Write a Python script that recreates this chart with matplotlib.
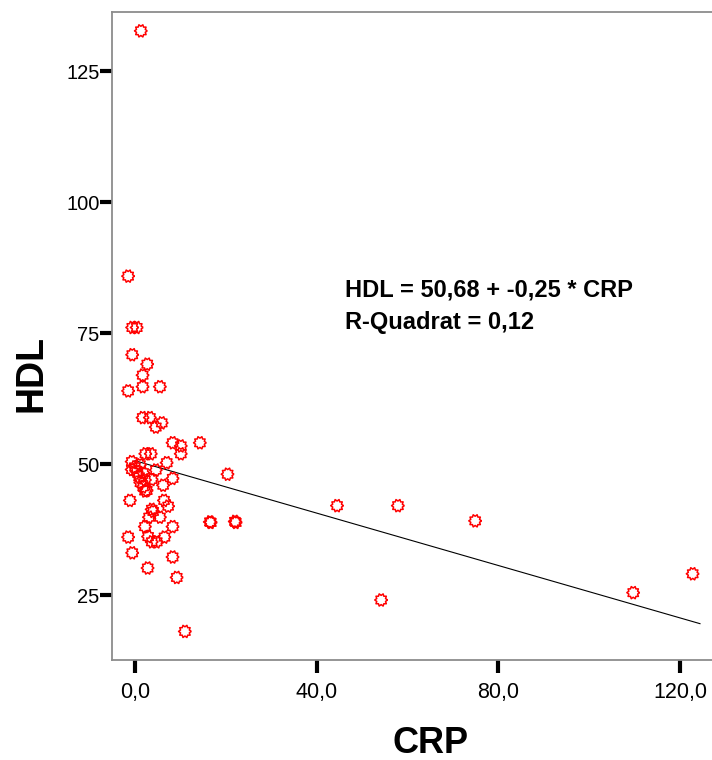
import numpy as np
import matplotlib
matplotlib.use('Agg')
import matplotlib.pyplot as plt
from matplotlib.ticker import FixedLocator, FixedFormatter

plt.rcParams['font.family'] = ['Liberation Sans', 'DejaVu Sans']

# CRP / HDL values
crp = [1.3, -1.5, -0.6, 0.4, -0.6, 2.7, 1.7, -1.5, 1.7, 5.5,
       1.7, 3.3, 5.9, 4.6, 8.3, 10.1, 14.3, 10.1, 2.3, 3.5,
       7.0, -0.7, 1.1, -0.7, 0.4, 1.8, 4.6, 0.9, 3.7, 8.3,
       2.2, 6.2, 1.8, 2.2, -1.1, 6.4, 7.3, 3.7, 4.0, 3.1,
       5.5, 2.2, 8.3, 16.5, -1.5, 2.9, 6.5, 3.7, 4.8, -0.6,
       8.3, 2.8, 9.2, 11.0, 20.4, 16.7, 22.2, 22.0, 44.5, 57.9,
       74.9, 54.2, 109.7, 122.8, 0.0, 1.2, 2.6]
hdl = [132.7, 85.9, 76.1, 76.1, 70.9, 69.1, 67.0, 64.0, 64.8, 64.8,
       58.9, 58.9, 57.9, 57.1, 54.1, 53.5, 54.1, 52.0, 52.0, 52.0,
       50.3, 50.5, 49.9, 49.0, 48.6, 48.4, 48.9, 47.6, 47.1, 47.3,
       47.0, 46.0, 45.7, 44.9, 43.1, 43.1, 42.0, 41.4, 41.0, 39.9,
       39.9, 38.1, 38.1, 39.0, 36.1, 36.2, 36.1, 35.2, 35.2, 33.1,
       32.3, 30.2, 28.4, 18.1, 48.1, 38.9, 38.9, 39.1, 42.1, 42.1,
       39.2, 24.1, 25.5, 29.1, 49.5, 46.5, 45.0]

intercept = 50.68
slope = -0.25
fit_range = [0.0, 124.4]

x_ticks = [0, 40, 80, 120]
x_labels = ['0,0', '40,0', '80,0', '120,0']
y_ticks = [25, 50, 75, 100, 125]

# gear-like marker like SPSS
ang = np.linspace(0, 2 * np.pi, 21)[:-1]
rad = np.where(np.arange(20) % 2 == 0, 1.0, 0.72)
gear = list(zip(rad * np.cos(ang), rad * np.sin(ang)))
gear.append(gear[0])

fig = plt.figure(figsize=(7.12, 7.6), dpi=100)
# plot frame runs past the right edge of the picture (cut off like the original)
ax = fig.add_axes([0.1573, 0.1316, 0.896, 0.8526])

ax.scatter(crp, hdl, marker=gear, s=85, facecolors='none',
           edgecolors='#ff0000', linewidths=1.1, zorder=3)

fx = np.array(fit_range)
ax.plot(fx, intercept + slope * fx, color='black', lw=0.8, zorder=2)

ax.set_xlim(-5.06, 135.4)
ax.set_ylim(12.65, 136.3)

ax.xaxis.set_major_locator(FixedLocator(x_ticks))
ax.xaxis.set_major_formatter(FixedFormatter(x_labels))
ax.yaxis.set_major_locator(FixedLocator(y_ticks))

ax.tick_params(axis='x', direction='out', length=9.5, width=3, color='black',
               labelsize=15.5, pad=6)
ax.tick_params(axis='y', direction='out', length=9, width=3, color='black',
               labelsize=14.5, pad=0)

for s in ['left', 'bottom', 'top', 'right']:
    ax.spines[s].set_color('#8c8c8c')
    ax.spines[s].set_linewidth(1.3)

ax.set_xlabel('CRP', fontsize=26, fontweight='bold')
ax.xaxis.set_label_coords(0.5, -0.102)
ax.set_ylabel('HDL', fontsize=27, fontweight='bold')
ax.yaxis.set_label_coords(-0.098, 0.442)

ax.text(46.2, 83.3, 'HDL = 50,68 + -0,25 * CRP', fontsize=17,
        fontweight='bold', va='center')
ax.text(46.2, 77.0, 'R-Quadrat = 0,12', fontsize=17,
        fontweight='bold', va='center')

fig.savefig('out.png', dpi=100)
